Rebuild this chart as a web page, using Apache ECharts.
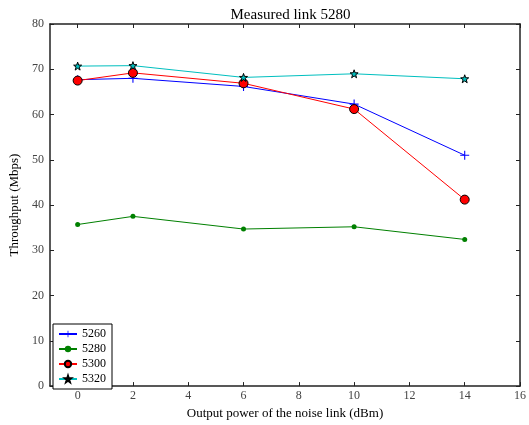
<!DOCTYPE html>
<html>
<head>
<meta charset="utf-8">
<script src="https://cdn.jsdelivr.net/npm/echarts@6/dist/echarts.min.js"></script>
<style>
  html, body { margin: 0; padding: 0; background: #fff; }
  #myChart { width: 529px; height: 425px; }
</style>
</head>
<body>
<div id="myChart"></div>
<script>
  // noise link output power (dBm)
  var powers = [0, 2, 6, 10, 14];
  var s5260 = [67.7, 68.0, 66.2, 62.3, 51.0];
  var s5280 = [35.7, 37.5, 34.7, 35.2, 32.4];
  var s5300 = [67.5, 69.2, 66.9, 61.2, 41.2];
  var s5320 = [70.7, 70.8, 68.2, 69.0, 67.9];
  var xTicks = [0, 2, 4, 6, 8, 10, 12, 14, 16];
  var yTicks = [0, 10, 20, 30, 40, 50, 60, 70, 80];

  var font = 'Liberation Serif';
  var plus = 'path://M0,4.4H10V5.6H0Z M4.4,0H5.6V10H4.4Z';
  var star = 'path://M0,-10L2.35,-3.24L9.51,-3.09L3.8,1.24L5.88,8.09L0,4L-5.88,8.09L-3.8,1.24L-9.51,-3.09L-2.35,-3.24Z';

  function pairs(vals) {
    return powers.map(function (p, i) { return [p, vals[i]]; });
  }

  var axisLine = { show: true, onZero: false, lineStyle: { color: '#222', width: 1.5 } };

  var myChart = echarts.init(document.getElementById('myChart'));
  var option = {
    animation: false,
    backgroundColor: '#fff',
    title: {
      text: 'Measured link 5280',
      left: 285.5,
      textAlign: 'center',
      top: 3,
      textStyle: { fontFamily: font, fontSize: 15, fontWeight: 'normal', color: '#000' }
    },
    legend: {
      orient: 'vertical',
      left: 53,
      top: 324,
      itemWidth: 18,
      itemHeight: 8,
      itemGap: 3,
      padding: [4, 6, 4, 5],
      borderColor: '#000',
      borderWidth: 1,
      backgroundColor: '#fff',
      textStyle: { fontFamily: font, fontSize: 12, lineHeight: 12, color: '#000' },
      data: ['5260', '5280', '5300', '5320']
    },
    grid: { left: 48, right: 5.5, top: 24, bottom: 32 },
    xAxis: [{
      type: 'value',
      min: -1,
      max: 16,
      position: 'bottom',
      name: 'Output power of the noise link (dBm)',
      nameLocation: 'middle',
      nameGap: 20,
      nameTextStyle: { fontFamily: font, fontSize: 13, color: '#000' },
      axisLine: axisLine,
      axisTick: { inside: true, length: 4, customValues: xTicks, lineStyle: { color: '#222' } },
      axisLabel: { customValues: xTicks, fontFamily: font, fontSize: 12, color: '#444', margin: 4 },
      splitLine: { show: false }
    }, {
      type: 'value',
      min: -1,
      max: 16,
      position: 'top',
      axisLine: axisLine,
      axisTick: { inside: true, length: 4, customValues: xTicks, lineStyle: { color: '#222' } },
      axisLabel: { show: false },
      splitLine: { show: false }
    }],
    yAxis: [{
      type: 'value',
      min: 0,
      max: 80,
      interval: 10,
      position: 'left',
      name: 'Throughput (Mbps)',
      nameLocation: 'middle',
      nameGap: 29,
      nameTextStyle: { fontFamily: font, fontSize: 13, color: '#000' },
      axisLine: axisLine,
      axisTick: { inside: true, length: 4, lineStyle: { color: '#222' } },
      axisLabel: { customValues: yTicks, fontFamily: font, fontSize: 12, color: '#444', margin: 6 },
      splitLine: { show: false }
    }, {
      type: 'value',
      min: 0,
      max: 80,
      interval: 10,
      position: 'right',
      axisLine: axisLine,
      axisTick: { inside: true, length: 4, lineStyle: { color: '#222' } },
      axisLabel: { show: false },
      splitLine: { show: false }
    }],
    series: [{
      name: '5260',
      type: 'line',
      data: pairs(s5260),
      symbol: plus,
      symbolSize: 9,
      lineStyle: { color: '#0000ff', width: 1 },
      itemStyle: { color: '#0000ff' }
    }, {
      name: '5280',
      type: 'line',
      data: pairs(s5280),
      symbol: 'circle',
      symbolSize: 5,
      lineStyle: { color: '#008000', width: 1 },
      itemStyle: { color: '#008000' }
    }, {
      name: '5300',
      type: 'line',
      data: pairs(s5300),
      symbol: 'circle',
      symbolSize: 9,
      lineStyle: { color: '#ff0000', width: 1 },
      itemStyle: { color: '#ff0000', borderColor: '#000', borderWidth: 1 }
    }, {
      name: '5320',
      type: 'line',
      data: pairs(s5320),
      symbol: star,
      symbolSize: 8,
      lineStyle: { color: '#00bfbf', width: 1 },
      itemStyle: { color: '#00bfbf', borderColor: '#000', borderWidth: 1 }
    }]
  };
  myChart.setOption(option, true);
</script>
</body>
</html>
